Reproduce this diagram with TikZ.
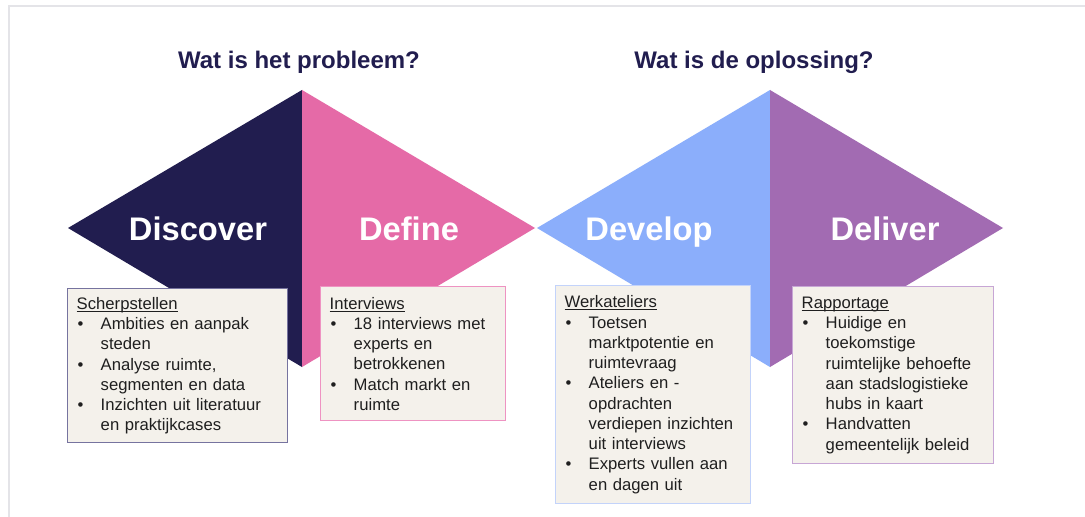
\documentclass[tikz,border=0pt]{standalone}
\usepackage{fontspec}
\setmainfont{Liberation Sans}

\definecolor{navy}{HTML}{211D4F}
\definecolor{roze}{HTML}{E56AA7}
\definecolor{lichtblauw}{HTML}{8BAEFB}
\definecolor{paars}{HTML}{A26BB2}
\definecolor{papier}{HTML}{F4F1EB}
\definecolor{rand}{HTML}{E4E4E8}
\definecolor{randnavy}{HTML}{76739F}
\definecolor{randroze}{HTML}{EE93C2}
\definecolor{randblauw}{HTML}{C3D3FA}
\definecolor{randpaars}{HTML}{C7A6D5}

% kopje met streep eronder, en een opsommingspunt met hangende inspringing
\newcommand{\kop}[1]{\noindent\setbox0\hbox{#1}\rlap{\rule[-1.8pt]{\wd0}{0.6pt}}\box0\par}
\newcommand{\punt}{\par\noindent\hangindent=18pt\hangafter=1\makebox[18pt][l]{\hspace{0.75pt}\textbullet}}

\tikzset{
	fase/.style={text=white, anchor=base, font=\fontsize{24.5}{28}\selectfont\bfseries},
	vraag/.style={text=navy, anchor=base, font=\fontsize{18}{22}\selectfont\bfseries},
	kader/.style={draw=#1, line width=1.1pt, fill=papier, anchor=north west, inner xsep=6.75pt, inner ysep=0pt, text=black!88, font=\fontsize{12.5}{15.2}\selectfont}
}

\begin{document}
\begin{tikzpicture}[x=0.75pt, y=-0.75pt]
	\useasboundingbox (0,0) rectangle (1085,517);
	\fill[white] (0,0) rectangle (1085,517);
	\draw[rand, line width=1.5pt] (8.5,517) -- (8.5,6.5) -- (1085,6.5);

	% de twee ruiten
	\fill[navy] (68,228) -- (302,90) -- (302,367) -- cycle;
	\fill[roze] (302,90) -- (535,228) -- (302,367) -- cycle;
	\fill[lichtblauw] (537,228) -- (770,90) -- (770,367) -- cycle;
	\fill[paars] (770,90) -- (1003,228) -- (770,367) -- cycle;

	\node[vraag] (probleem) at (299,69) {Wat is het probleem?};
	\node[vraag] (oplossing) at (754,69) {Wat is de oplossing?};

	\node[fase] (discover) at (198,240) {Discover};
	\node[fase] (define) at (409,240) {Define};
	\node[fase] (develop) at (649,240) {Develop};
	\node[fase] (deliver) at (885,240) {Deliver};

	% toelichting per fase
	\node[kader=randnavy, text width=151.5pt, minimum height=115.5pt] (scherp) at (67,288) {\kop{Scherpstellen}
		\punt Ambities en aanpak\newline steden
		\punt Analyse ruimte,\newline segmenten en data
		\punt Inzichten uit literatuur\newline en praktijkcases\par};
	\node[kader=randroze, text width=125.25pt, minimum height=100.5pt] (interviews) at (320,286) {\kop{Interviews}
		\punt 18 interviews met\newline experts en\newline betrokkenen
		\punt Match markt en\newline ruimte\par};
	\node[kader=randblauw, text width=132.75pt, minimum height=163.5pt] (werk) at (555,285) {\kop{Werkateliers}
		\punt Toetsen\newline marktpotentie en\newline ruimtevraag
		\punt Ateliers en -\newline opdrachten\newline verdiepen inzichten\newline uit interviews
		\punt Experts vullen aan\newline en dagen uit\par};
	\node[kader=randpaars, text width=137.25pt, minimum height=132.75pt] (rapport) at (792,286) {\kop{Rapportage}
		\punt Huidige en\newline toekomstige\newline ruimtelijke behoefte\newline aan stadslogistieke\newline hubs in kaart
		\punt Handvatten\newline gemeentelijk beleid\par};
\end{tikzpicture}
\end{document}
